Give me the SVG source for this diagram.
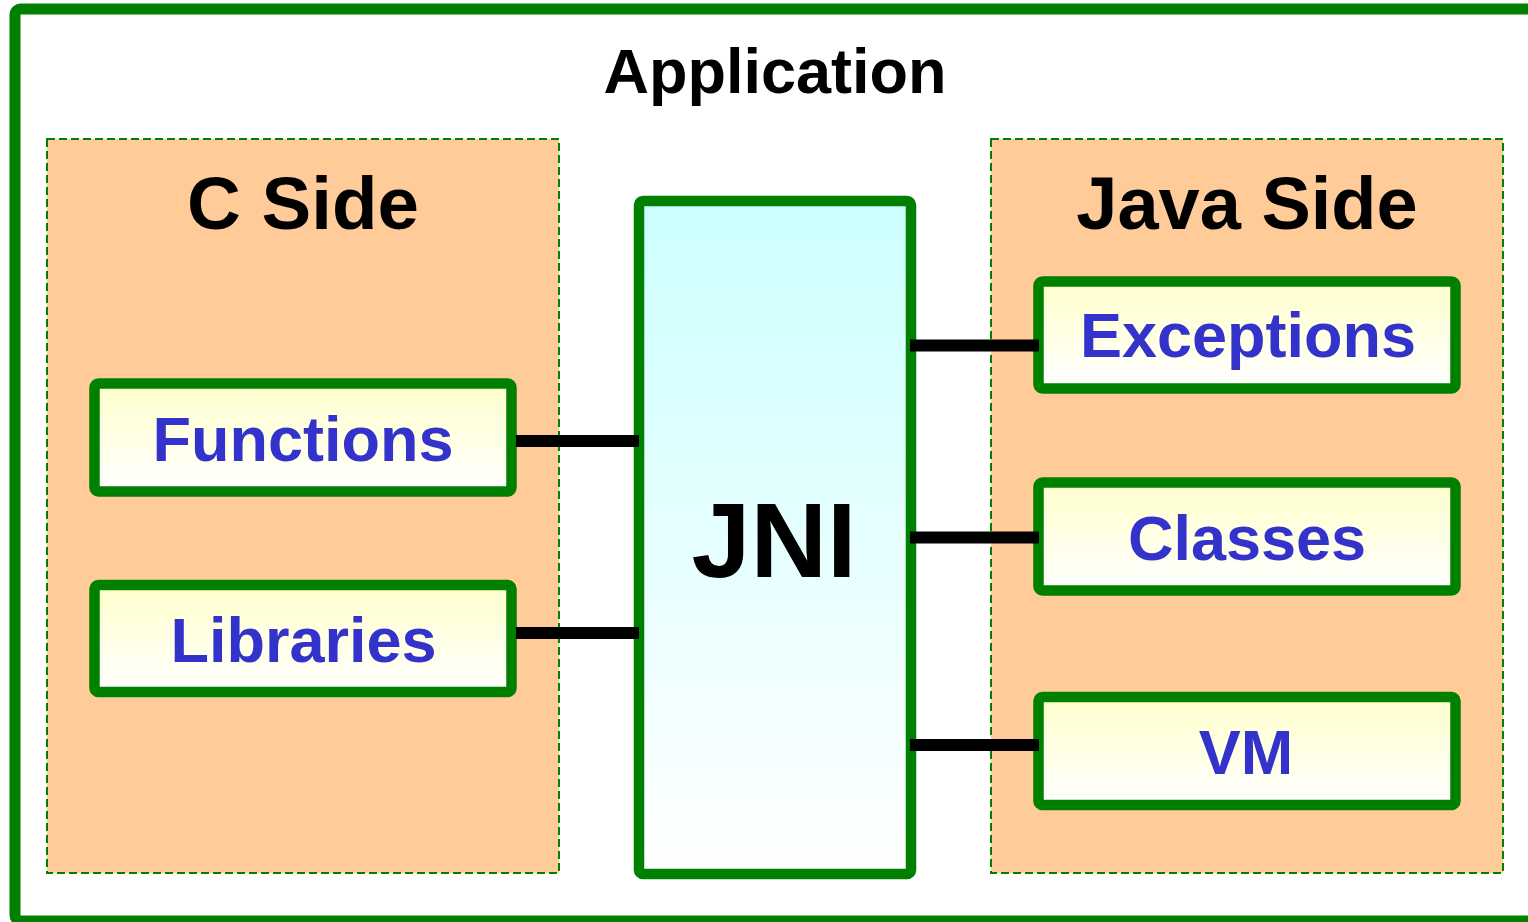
<svg xmlns="http://www.w3.org/2000/svg" width="1528" height="922" viewBox="0 0 1528 922">
<defs>
<linearGradient id="gy" x1="0" y1="0" x2="0" y2="1"><stop offset="0" stop-color="#FFFFCC"/><stop offset="1" stop-color="#FFFFFF"/></linearGradient>
<linearGradient id="gc" x1="0" y1="0" x2="0" y2="1"><stop offset="0" stop-color="#CCFFFF"/><stop offset="1" stop-color="#FFFFFF"/></linearGradient>
</defs>
<style>
.t{font-family:"Liberation Sans",Arial,sans-serif;font-weight:bold;text-anchor:middle}
.side{fill:#FFCC99;stroke:#008000;stroke-width:2;stroke-dasharray:8 4}
.node{fill:url(#gy);stroke:#008000;stroke-width:10.5}
.lbl{fill:#3333CC;font-size:63px}
.conn{stroke:#000;stroke-width:12}
</style>
<rect width="1528" height="922" fill="#fff"/>
<g id="application">
<rect x="15" y="9" width="1520" height="912" rx="6" fill="#fff" stroke="#008000" stroke-width="11"/>
<text class="t" x="775" y="93" font-size="63">Application</text>
</g>
<g id="c-side">
<rect class="side" x="47" y="139" width="512" height="734"/>
<text class="t" x="303" y="229" font-size="74.5">C Side</text>
</g>
<g id="java-side">
<rect class="side" x="991" y="139" width="512" height="734"/>
<text class="t" x="1247" y="229" font-size="74">Java Side</text>
</g>
<g id="jni">
<rect x="639" y="201" width="272" height="673" rx="4" fill="url(#gc)" stroke="#008000" stroke-width="10.5"/>
<text class="t" x="774" y="577" font-size="106">JNI</text>
</g>
<g id="functions">
<rect class="node" x="94.5" y="383.5" width="417" height="108" rx="4"/>
<text class="t lbl" x="303" y="461">Functions</text>
</g>
<g id="libraries">
<rect class="node" x="94.5" y="585" width="417" height="107" rx="4"/>
<text class="t lbl" x="303.5" y="662">Libraries</text>
</g>
<g id="exceptions">
<rect class="node" x="1038.5" y="281.5" width="417" height="107" rx="4"/>
<text class="t lbl" x="1248" y="357">Exceptions</text>
</g>
<g id="classes">
<rect class="node" x="1038.5" y="482.5" width="417" height="108" rx="4"/>
<text class="t lbl" x="1247" y="560">Classes</text>
</g>
<g id="vm">
<rect class="node" x="1038.5" y="697" width="417" height="108" rx="4"/>
<text class="t lbl" x="1246" y="774">VM</text>
</g>
<g id="connectors">
<line class="conn" x1="516" y1="441" x2="639" y2="441"/>
<line class="conn" x1="516" y1="633" x2="639" y2="633"/>
<line class="conn" x1="910" y1="345.5" x2="1039" y2="345.5"/>
<line class="conn" x1="910" y1="537.5" x2="1039" y2="537.5"/>
<line class="conn" x1="910" y1="745" x2="1039" y2="745"/>
</g>
</svg>
